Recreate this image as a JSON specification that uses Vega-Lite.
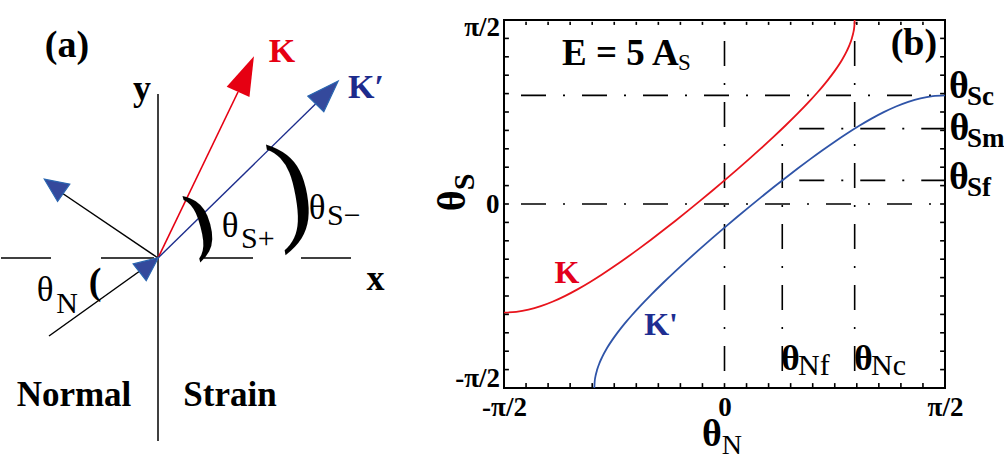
{
  "$schema": "https://vega.github.io/schema/vega-lite/v6.json",
  "background": "white",
  "padding": {"left": 0, "top": 12, "right": 0, "bottom": 12},
  "spacing": 103,
  "bounds": "flush",
  "config": {
    "font": "Liberation Serif",
    "view": {"stroke": null},
    "axis": {
      "domain": false,
      "ticks": false,
      "labelFont": "Liberation Serif",
      "labelFontWeight": "bold",
      "labelFontSize": 27,
      "labelColor": "black",
      "labelOverlap": false,
      "labelBound": false,
      "grid": false
    }
  },
  "hconcat": [
    {
      "width": 400,
      "height": 430,
      "encoding": {
        "x": {"field": "x", "type": "quantitative", "scale": {"domain": [-15.7, 24.3], "nice": false, "zero": false}, "axis": null},
        "y": {"field": "y", "type": "quantitative", "scale": {"domain": [-19.2, 23.8], "nice": false, "zero": false}, "axis": null}
      },
      "layer": [
        {
          "data": {"values": [
            {"x": 0, "y": 16.4, "x2": 0, "y2": -18.3},
            {"x": -15.7, "y": 0, "x2": -10.7, "y2": 0},
            {"x": -5.7, "y": 0, "x2": -0.4, "y2": 0},
            {"x": 4.6, "y": 0, "x2": 9.5, "y2": 0},
            {"x": 14.3, "y": 0, "x2": 19.3, "y2": 0},
            {"x": -10.9, "y": -7.8, "x2": 0, "y2": 0},
            {"x": 0, "y": 0, "x2": -9.9, "y2": 6.7}
          ]},
          "mark": {"type": "rule", "color": "black", "strokeWidth": 1.5},
          "encoding": {"x2": {"field": "x2"}, "y2": {"field": "y2"}}
        },
        {
          "data": {"values": [{"x": 0, "y": 0, "x2": 8.0, "y2": 16.6}]},
          "mark": {"type": "rule", "color": "#e60012", "strokeWidth": 1.6},
          "encoding": {"x2": {"field": "x2"}, "y2": {"field": "y2"}}
        },
        {
          "data": {"values": [{"x": 0, "y": 0, "x2": 15.75, "y2": 15.4}]},
          "mark": {"type": "rule", "color": "#1c2c8c", "strokeWidth": 1.4},
          "encoding": {"x2": {"field": "x2"}, "y2": {"field": "y2"}}
        },
        {
          "data": {"values": [{"x": 8.8, "y": 18.4, "heading": 24}]},
          "mark": {"type": "point", "shape": "M0,-1L0.64,1L-0.64,1Z", "filled": true, "color": "#e60012", "opacity": 1, "size": 1521},
          "encoding": {"angle": {"field": "heading", "type": "quantitative", "scale": null}}
        },
        {
          "data": {"values": [{"x": 16.9, "y": 16.55, "heading": 44.4}]},
          "mark": {"type": "point", "shape": "M0,-1L0.7,1L-0.7,1Z", "filled": true, "color": "#34499c", "stroke": "#2a66b0", "strokeWidth": 1.2, "opacity": 1, "size": 1024},
          "encoding": {"angle": {"field": "heading", "type": "quantitative", "scale": null}}
        },
        {
          "data": {"values": [
            {"x": -0.9, "y": -0.7, "heading": 52},
            {"x": -10.4, "y": 7.2, "heading": 305}
          ]},
          "mark": {"type": "point", "shape": "M0,-1L0.9,1L-0.9,1Z", "filled": true, "color": "#34499c", "stroke": "#2a66b0", "strokeWidth": 1.2, "opacity": 1, "size": 560},
          "encoding": {"angle": {"field": "heading", "type": "quantitative", "scale": null}}
        },
        {
          "data": {"values": [{"t": "(a)", "x": -9.1, "y": 21.2}]},
          "mark": {"type": "text", "align": "center", "baseline": "middle", "fontSize": 38, "fontWeight": "bold", "color": "black"},
          "encoding": {"text": {"field": "t"}}
        },
        {
          "data": {"values": [{"t": "K", "x": 12.4, "y": 20.6}]},
          "mark": {"type": "text", "align": "center", "baseline": "middle", "fontSize": 34, "fontWeight": "bold", "color": "#e60012"},
          "encoding": {"text": {"field": "t"}}
        },
        {
          "data": {"values": [{"t": "K′", "x": 20.8, "y": 17.0}]},
          "mark": {"type": "text", "align": "center", "baseline": "middle", "fontSize": 34, "fontWeight": "bold", "color": "#1d2b8c"},
          "encoding": {"text": {"field": "t"}}
        },
        {
          "data": {"values": [
            {"t": "y", "x": -1.6, "y": 15.8},
            {"t": "x", "x": 21.75, "y": -3.2}
          ]},
          "mark": {"type": "text", "align": "center", "baseline": "alphabetic", "fontSize": 36, "fontWeight": "bold", "color": "black"},
          "encoding": {"text": {"field": "t"}}
        },
        {
          "data": {"values": [
            {"t": "Normal", "x": -8.4, "y": -14.8},
            {"t": "Strain", "x": 7.2, "y": -14.8}
          ]},
          "mark": {"type": "text", "align": "center", "baseline": "alphabetic", "fontSize": 35, "fontWeight": "bold", "color": "black"},
          "encoding": {"text": {"field": "t"}}
        },
        {
          "data": {"values": [
            {"t": "θ", "x": -11.3, "y": -3.2},
            {"t": "θ", "x": 7.2, "y": 3.2},
            {"t": "θ", "x": 15.9, "y": 5.0}
          ]},
          "mark": {"type": "text", "align": "center", "baseline": "middle", "fontSize": 35, "color": "black"},
          "encoding": {"text": {"field": "t"}}
        },
        {
          "data": {"values": [{"t": "N", "x": -9.1, "y": -4.6}]},
          "mark": {"type": "text", "align": "center", "baseline": "middle", "fontSize": 30, "color": "black"},
          "encoding": {"text": {"field": "t"}}
        },
        {
          "data": {"values": [
            {"t": "S+", "x": 8.3, "y": 1.9},
            {"t": "S−", "x": 16.9, "y": 4.2}
          ]},
          "mark": {"type": "text", "align": "left", "baseline": "middle", "fontSize": 30, "color": "black"},
          "encoding": {"text": {"field": "t"}}
        },
        {
          "data": {"values": [{"t": "(", "x": -6.3, "y": -2.5}]},
          "mark": {"type": "text", "align": "center", "baseline": "middle", "fontSize": 38, "fontWeight": "bold", "color": "black"},
          "encoding": {"text": {"field": "t"}}
        },
        {
          "data": {"values": [{"t": ")", "x": 4.2, "y": 3.6}]},
          "mark": {"type": "text", "align": "center", "baseline": "middle", "fontSize": 76, "fontWeight": "bold", "angle": -15, "color": "black"},
          "encoding": {"text": {"field": "t"}}
        },
        {
          "data": {"values": [{"t": ")", "x": 13.3, "y": 6.8}]},
          "mark": {"type": "text", "align": "center", "baseline": "middle", "fontSize": 124, "angle": -10, "color": "black"},
          "encoding": {"text": {"field": "t"}}
        }
      ]
    },
    {
      "width": 441,
      "height": 368,
      "view": {"stroke": "black", "strokeWidth": 2},
      "resolve": {"axis": {"x": "independent", "y": "independent"}},
      "encoding": {
        "x": {"field": "x", "type": "quantitative", "scale": {"domain": [-90, 90], "nice": false, "zero": false}, "axis": null},
        "y": {"field": "y", "type": "quantitative", "scale": {"domain": [-90, 90], "nice": false, "zero": false}, "axis": null}
      },
      "layer": [
        {
          "data": {"values": [
            {"line": "theta_Sc", "x": -90, "x2": 90, "y": 53.13, "y2": 53.13},
            {"line": "zero_S", "x": -90, "x2": 90, "y": 0, "y2": 0},
            {"line": "theta_Sm", "x": 23.58, "x2": 90, "y": 36.87, "y2": 36.87},
            {"line": "theta_Sf", "x": 23.58, "x2": 90, "y": 11.54, "y2": 11.54},
            {"line": "zero_N", "x": 0, "x2": 0, "y": -90, "y2": 90},
            {"line": "theta_Nf", "x": 23.58, "x2": 23.58, "y": -90, "y2": 36.87},
            {"line": "theta_Nc", "x": 53.13, "x2": 53.13, "y": -90, "y2": 90}
          ]},
          "mark": {"type": "rule", "color": "black", "strokeWidth": 1.6, "strokeDash": [25, 17, 2, 17], "strokeDashOffset": 44},
          "encoding": {"x2": {"field": "x2"}, "y2": {"field": "y2"}}
        },
        {
          "data": {"values": [
            {"curve": "K", "x": -90, "y": -53.13}, {"curve": "K", "x": -85, "y": -52.77}, {"curve": "K", "x": -80, "y": -51.71},
            {"curve": "K", "x": -75, "y": -49.99}, {"curve": "K", "x": -70, "y": -47.7}, {"curve": "K", "x": -65, "y": -44.93},
            {"curve": "K", "x": -60, "y": -41.76}, {"curve": "K", "x": -55, "y": -38.26}, {"curve": "K", "x": -50, "y": -34.47},
            {"curve": "K", "x": -45, "y": -30.47}, {"curve": "K", "x": -40, "y": -26.28}, {"curve": "K", "x": -35, "y": -21.94},
            {"curve": "K", "x": -30, "y": -17.46}, {"curve": "K", "x": -25, "y": -12.86}, {"curve": "K", "x": -20, "y": -8.16},
            {"curve": "K", "x": -15, "y": -3.37}, {"curve": "K", "x": -10, "y": 1.51}, {"curve": "K", "x": -5, "y": 6.48},
            {"curve": "K", "x": 0, "y": 11.54}, {"curve": "K", "x": 5, "y": 16.69}, {"curve": "K", "x": 10, "y": 21.94},
            {"curve": "K", "x": 15, "y": 27.31}, {"curve": "K", "x": 20, "y": 32.82}, {"curve": "K", "x": 25, "y": 38.51},
            {"curve": "K", "x": 30, "y": 44.43}, {"curve": "K", "x": 35, "y": 50.68}, {"curve": "K", "x": 38, "y": 54.66},
            {"curve": "K", "x": 40, "y": 57.44}, {"curve": "K", "x": 42, "y": 60.36}, {"curve": "K", "x": 45, "y": 65.11},
            {"curve": "K", "x": 48, "y": 70.58}, {"curve": "K", "x": 50, "y": 75.03}, {"curve": "K", "x": 51, "y": 77.72},
            {"curve": "K", "x": 52, "y": 81.12}, {"curve": "K", "x": 52.5, "y": 83.41}, {"curve": "K", "x": 53, "y": 86.97},
            {"curve": "K", "x": 53.13, "y": 90},
            {"curve": "K'", "x": 90, "y": 53.13}, {"curve": "K'", "x": 85, "y": 52.77}, {"curve": "K'", "x": 80, "y": 51.71},
            {"curve": "K'", "x": 75, "y": 49.99}, {"curve": "K'", "x": 70, "y": 47.7}, {"curve": "K'", "x": 65, "y": 44.93},
            {"curve": "K'", "x": 60, "y": 41.76}, {"curve": "K'", "x": 55, "y": 38.26}, {"curve": "K'", "x": 50, "y": 34.47},
            {"curve": "K'", "x": 45, "y": 30.47}, {"curve": "K'", "x": 40, "y": 26.28}, {"curve": "K'", "x": 35, "y": 21.94},
            {"curve": "K'", "x": 30, "y": 17.46}, {"curve": "K'", "x": 25, "y": 12.86}, {"curve": "K'", "x": 20, "y": 8.16},
            {"curve": "K'", "x": 15, "y": 3.37}, {"curve": "K'", "x": 10, "y": -1.51}, {"curve": "K'", "x": 5, "y": -6.48},
            {"curve": "K'", "x": 0, "y": -11.54}, {"curve": "K'", "x": -5, "y": -16.69}, {"curve": "K'", "x": -10, "y": -21.94},
            {"curve": "K'", "x": -15, "y": -27.31}, {"curve": "K'", "x": -20, "y": -32.82}, {"curve": "K'", "x": -25, "y": -38.51},
            {"curve": "K'", "x": -30, "y": -44.43}, {"curve": "K'", "x": -35, "y": -50.68}, {"curve": "K'", "x": -38, "y": -54.66},
            {"curve": "K'", "x": -40, "y": -57.44}, {"curve": "K'", "x": -42, "y": -60.36}, {"curve": "K'", "x": -45, "y": -65.11},
            {"curve": "K'", "x": -48, "y": -70.58}, {"curve": "K'", "x": -50, "y": -75.03}, {"curve": "K'", "x": -51, "y": -77.72},
            {"curve": "K'", "x": -52, "y": -81.12}, {"curve": "K'", "x": -52.5, "y": -83.41}, {"curve": "K'", "x": -53, "y": -86.97},
            {"curve": "K'", "x": -53.13, "y": -90}
          ]},
          "mark": {"type": "line", "strokeWidth": 1.8, "interpolate": "monotone"},
          "encoding": {
            "x": {"field": "x", "type": "quantitative", "scale": {"domain": [-90, 90], "nice": false, "zero": false},
                  "axis": {"orient": "bottom", "title": null, "labelPadding": 6, "labelFlush": false,
                           "labelFontSize": 27, "labelFontWeight": "bold",
                           "values": [-90, 0, 90],
                           "labelExpr": "datum.value == 90 ? 'π/2' : datum.value == -90 ? '-π/2' : '0'"}},
            "y": {"field": "y", "type": "quantitative", "scale": {"domain": [-90, 90], "nice": false, "zero": false},
                  "axis": {"orient": "left", "title": null, "labelPadding": 5, "labelFlush": false,
                           "labelFontSize": 27, "labelFontWeight": "bold",
                           "values": [0],
                           "labelExpr": "'0'"}},
            "color": {"field": "curve", "type": "nominal", "scale": {"domain": ["K", "K'"], "range": ["#e8141c", "#2f54a8"]}, "legend": null},
            "detail": {"field": "curve"}
          }
        },
        {
          "data": {"values": [
            {"t": "π/2", "x": -91.6, "y": 86.1},
            {"t": "-π/2", "x": -91.6, "y": -85.8}
          ]},
          "mark": {"type": "text", "align": "right", "baseline": "middle", "fontSize": 27, "fontWeight": "bold", "color": "black"},
          "encoding": {"text": {"field": "t"}}
        },
        {
          "data": {"values": [{"t": "E = 5 A", "x": -66.3, "y": 68}]},
          "mark": {"type": "text", "align": "left", "baseline": "alphabetic", "fontSize": 37, "fontWeight": "bold", "color": "black"},
          "encoding": {"text": {"field": "t"}}
        },
        {
          "data": {"values": [{"t": "S", "x": -19.0, "y": 65.5}]},
          "mark": {"type": "text", "align": "left", "baseline": "alphabetic", "fontSize": 23, "color": "black"},
          "encoding": {"text": {"field": "t"}}
        },
        {
          "data": {"values": [{"t": "(b)", "x": 77.3, "y": 78.3}]},
          "mark": {"type": "text", "align": "center", "baseline": "middle", "fontSize": 38, "fontWeight": "bold", "color": "black"},
          "encoding": {"text": {"field": "t"}}
        },
        {
          "data": {"values": [{"t": "K", "x": -64.3, "y": -33.75}]},
          "mark": {"type": "text", "align": "center", "baseline": "middle", "fontSize": 32, "fontWeight": "bold", "color": "#e3001b"},
          "encoding": {"text": {"field": "t"}}
        },
        {
          "data": {"values": [{"t": "K'", "x": -25.9, "y": -59.2}]},
          "mark": {"type": "text", "align": "center", "baseline": "middle", "fontSize": 32, "fontWeight": "bold", "color": "#1e2d91"},
          "encoding": {"text": {"field": "t"}}
        },
        {
          "data": {"values": [
            {"t": "θ", "x": 23.1, "y": -81.2},
            {"t": "θ", "x": 52.9, "y": -81.2}
          ]},
          "mark": {"type": "text", "align": "left", "baseline": "alphabetic", "fontSize": 36, "fontWeight": "bold", "color": "black"},
          "encoding": {"text": {"field": "t"}}
        },
        {
          "data": {"values": [
            {"t": "Nf", "x": 30.0, "y": -83.8},
            {"t": "Nc", "x": 59.8, "y": -83.8}
          ]},
          "mark": {"type": "text", "align": "left", "baseline": "alphabetic", "fontSize": 30, "color": "black"},
          "encoding": {"text": {"field": "t"}}
        },
        {
          "data": {"values": [
            {"t": "θ", "x": 91.6, "y": 57.2},
            {"t": "θ", "x": 91.8, "y": 36.7},
            {"t": "θ", "x": 91.6, "y": 12.7}
          ]},
          "mark": {"type": "text", "align": "left", "baseline": "middle", "fontSize": 38, "fontWeight": "bold", "color": "black"},
          "encoding": {"text": {"field": "t"}}
        },
        {
          "data": {"values": [
            {"t": "Sc", "x": 99, "y": 52.3},
            {"t": "Sm", "x": 99, "y": 31.55},
            {"t": "Sf", "x": 99, "y": 7.8}
          ]},
          "mark": {"type": "text", "align": "left", "baseline": "middle", "fontSize": 27, "fontWeight": "bold", "color": "black"},
          "encoding": {"text": {"field": "t"}}
        },
        {
          "data": {"values": [{"t": "θ", "x": -5.1, "y": -113}]},
          "mark": {"type": "text", "align": "center", "baseline": "middle", "fontSize": 38, "fontWeight": "bold", "color": "black"},
          "encoding": {"text": {"field": "t"}}
        },
        {
          "data": {"values": [{"t": "N", "x": 3.0, "y": -118.2}]},
          "mark": {"type": "text", "align": "center", "baseline": "middle", "fontSize": 28, "color": "black"},
          "encoding": {"text": {"field": "t"}}
        },
        {
          "data": {"values": [{"t": "θ", "x": -110.8, "y": 1.5}]},
          "mark": {"type": "text", "align": "center", "baseline": "middle", "fontSize": 40, "fontWeight": "bold", "angle": -90, "color": "black"},
          "encoding": {"text": {"field": "t"}}
        },
        {
          "data": {"values": [{"t": "S", "x": -105.9, "y": 10.8}]},
          "mark": {"type": "text", "align": "center", "baseline": "middle", "fontSize": 30, "fontWeight": "bold", "angle": -90, "color": "black"},
          "encoding": {"text": {"field": "t"}}
        },
        {
          "data": {"values": [
            {"x": -81, "x2": -81, "y": -90, "y2": -87.6}, {"x": -72, "x2": -72, "y": -90, "y2": -87.6}, {"x": -63, "x2": -63, "y": -90, "y2": -87.6},
            {"x": -54, "x2": -54, "y": -90, "y2": -87.6}, {"x": -45, "x2": -45, "y": -90, "y2": -87.6}, {"x": -36, "x2": -36, "y": -90, "y2": -87.6},
            {"x": -27, "x2": -27, "y": -90, "y2": -87.6}, {"x": -18, "x2": -18, "y": -90, "y2": -87.6}, {"x": -9, "x2": -9, "y": -90, "y2": -87.6},
            {"x": 0, "x2": 0, "y": -90, "y2": -87.6}, {"x": 9, "x2": 9, "y": -90, "y2": -87.6}, {"x": 18, "x2": 18, "y": -90, "y2": -87.6},
            {"x": 27, "x2": 27, "y": -90, "y2": -87.6}, {"x": 36, "x2": 36, "y": -90, "y2": -87.6}, {"x": 45, "x2": 45, "y": -90, "y2": -87.6},
            {"x": 54, "x2": 54, "y": -90, "y2": -87.6}, {"x": 63, "x2": 63, "y": -90, "y2": -87.6}, {"x": 72, "x2": 72, "y": -90, "y2": -87.6},
            {"x": 81, "x2": 81, "y": -90, "y2": -87.6},
            {"x": -81, "x2": -81, "y": 89.1, "y2": 87.6}, {"x": -72, "x2": -72, "y": 89.1, "y2": 87.6}, {"x": -63, "x2": -63, "y": 89.1, "y2": 87.6},
            {"x": -54, "x2": -54, "y": 89.1, "y2": 87.6}, {"x": -45, "x2": -45, "y": 89.1, "y2": 87.6}, {"x": -36, "x2": -36, "y": 89.1, "y2": 87.6},
            {"x": -27, "x2": -27, "y": 89.1, "y2": 87.6}, {"x": -18, "x2": -18, "y": 89.1, "y2": 87.6}, {"x": -9, "x2": -9, "y": 89.1, "y2": 87.6},
            {"x": 0, "x2": 0, "y": 89.1, "y2": 87.6}, {"x": 9, "x2": 9, "y": 89.1, "y2": 87.6}, {"x": 18, "x2": 18, "y": 89.1, "y2": 87.6},
            {"x": 27, "x2": 27, "y": 89.1, "y2": 87.6}, {"x": 36, "x2": 36, "y": 89.1, "y2": 87.6}, {"x": 45, "x2": 45, "y": 89.1, "y2": 87.6},
            {"x": 54, "x2": 54, "y": 89.1, "y2": 87.6}, {"x": 63, "x2": 63, "y": 89.1, "y2": 87.6}, {"x": 72, "x2": 72, "y": 89.1, "y2": 87.6},
            {"x": 81, "x2": 81, "y": 89.1, "y2": 87.6},
            {"x": -90, "x2": -88, "y": -81, "y2": -81}, {"x": -90, "x2": -88, "y": -72, "y2": -72}, {"x": -90, "x2": -88, "y": -63, "y2": -63},
            {"x": -90, "x2": -88, "y": -54, "y2": -54}, {"x": -90, "x2": -88, "y": -45, "y2": -45}, {"x": -90, "x2": -88, "y": -36, "y2": -36},
            {"x": -90, "x2": -88, "y": -27, "y2": -27}, {"x": -90, "x2": -88, "y": -18, "y2": -18}, {"x": -90, "x2": -88, "y": -9, "y2": -9},
            {"x": -90, "x2": -88, "y": 0, "y2": 0}, {"x": -90, "x2": -88, "y": 9, "y2": 9}, {"x": -90, "x2": -88, "y": 18, "y2": 18},
            {"x": -90, "x2": -88, "y": 27, "y2": 27}, {"x": -90, "x2": -88, "y": 36, "y2": 36}, {"x": -90, "x2": -88, "y": 45, "y2": 45},
            {"x": -90, "x2": -88, "y": 54, "y2": 54}, {"x": -90, "x2": -88, "y": 63, "y2": 63}, {"x": -90, "x2": -88, "y": 72, "y2": 72},
            {"x": -90, "x2": -88, "y": 81, "y2": 81},
            {"x": 90, "x2": 88, "y": -81, "y2": -81}, {"x": 90, "x2": 88, "y": -72, "y2": -72}, {"x": 90, "x2": 88, "y": -63, "y2": -63},
            {"x": 90, "x2": 88, "y": -54, "y2": -54}, {"x": 90, "x2": 88, "y": -45, "y2": -45}, {"x": 90, "x2": 88, "y": -36, "y2": -36},
            {"x": 90, "x2": 88, "y": -27, "y2": -27}, {"x": 90, "x2": 88, "y": -18, "y2": -18}, {"x": 90, "x2": 88, "y": -9, "y2": -9},
            {"x": 90, "x2": 88, "y": 0, "y2": 0}, {"x": 90, "x2": 88, "y": 9, "y2": 9}, {"x": 90, "x2": 88, "y": 18, "y2": 18},
            {"x": 90, "x2": 88, "y": 27, "y2": 27}, {"x": 90, "x2": 88, "y": 36, "y2": 36}, {"x": 90, "x2": 88, "y": 45, "y2": 45},
            {"x": 90, "x2": 88, "y": 54, "y2": 54}, {"x": 90, "x2": 88, "y": 63, "y2": 63}, {"x": 90, "x2": 88, "y": 72, "y2": 72},
            {"x": 90, "x2": 88, "y": 81, "y2": 81}
          ]},
          "mark": {"type": "rule", "color": "black", "strokeWidth": 1.6},
          "encoding": {"x2": {"field": "x2"}, "y2": {"field": "y2"}}
        }
      ]
    }
  ]
}
